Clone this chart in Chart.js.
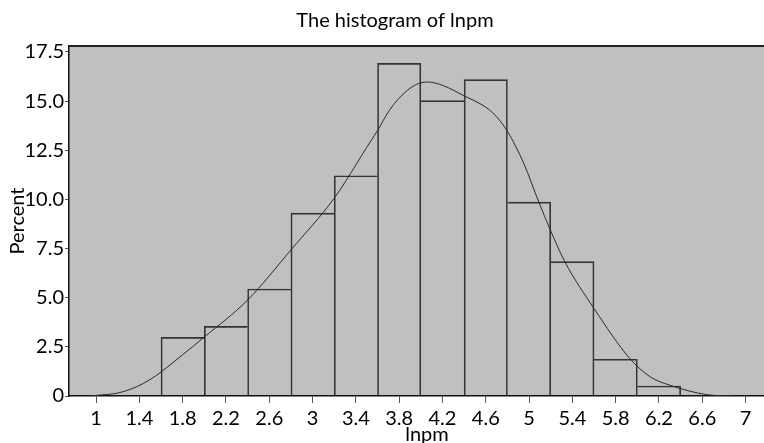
<!DOCTYPE html>
<html>
<head>
<meta charset="utf-8">
<script src="https://cdn.jsdelivr.net/npm/chart.js@4.4.1/dist/chart.umd.min.js"></script>
<style>
  html, body { margin: 0; padding: 0; background: #fff; }
  #wrap { width: 764px; height: 443px; }
</style>
</head>
<body>
<div id="wrap"><canvas id="chart"></canvas></div>
<script>
// histogram bins (centres, width 0.4) and percent heights
const binCenters = [1.8, 2.2, 2.6, 3.0, 3.4, 3.8, 4.2, 4.6, 5.0, 5.4, 5.8, 6.2];
const percents = [2.98, 3.54, 5.44, 9.3, 11.2, 16.92, 15.02, 16.09, 9.86, 6.83, 1.87, 0.51];

// density curve
const curveX = [0.95, 1.0, 1.2, 1.37, 1.5, 1.6, 1.8, 2.0, 2.4, 2.8, 3.2, 3.4, 3.5, 3.6, 3.7, 3.8, 3.9, 3.96, 4.06, 4.21, 4.39, 4.61, 4.7, 4.8, 4.95, 5.09, 5.19, 5.33, 5.6, 5.93, 6.12, 6.3, 6.64, 6.87];
const curveY = [0, 0.03, 0.15, 0.46, 0.84, 1.22, 2.1, 3.0, 4.88, 7.43, 10.06, 11.75, 12.65, 13.5, 14.45, 15.15, 15.65, 15.85, 15.97, 15.78, 15.29, 14.65, 14.2, 13.46, 11.84, 9.86, 8.53, 6.83, 4.45, 1.91, 0.97, 0.55, 0.07, 0];

const xTicks = [1, 1.4, 1.8, 2.2, 2.6, 3, 3.4, 3.8, 4.2, 4.6, 5, 5.4, 5.8, 6.2, 6.6, 7];
const yTicks = [0, 2.5, 5, 7.5, 10, 12.5, 15, 17.5];

const FONT = "Lato, 'Open Sans', sans-serif";
const FSIZE = 20;

const plotBg = {
  id: "plotBg",
  beforeDraw(chart) {
    const { ctx, chartArea: a } = chart;
    ctx.save();
    ctx.fillStyle = "#c0c0c0";
    ctx.fillRect(a.left, a.top, a.right - a.left, a.bottom - a.top);
    ctx.restore();
  },
  afterDraw(chart) {
    const { ctx, chartArea: a } = chart;
    ctx.save();
    // top frame line
    ctx.strokeStyle = "#222";
    ctx.lineWidth = 2;
    ctx.beginPath();
    ctx.moveTo(a.left, a.top);
    ctx.lineTo(a.right, a.top);
    ctx.stroke();
    // titles
    ctx.fillStyle = "#000";
    ctx.font = FSIZE + "px " + FONT;
    ctx.textAlign = "center";
    ctx.textBaseline = "alphabetic";
    ctx.fillText("The histogram of lnpm", 395, 26.5);
    ctx.fillText("lnpm", 427, 441);
    ctx.restore();
  }
};

// the taller of two neighbouring bars draws the shared edge
function barBorder(c) {
  const i = c.dataIndex;
  const last = percents.length - 1;
  return {
    top: 1,
    bottom: 0,
    left: i === 0 || percents[i] >= percents[i - 1] ? 1 : 0,
    right: i === last || percents[i] > percents[i + 1] ? 1 : 0
  };
}

const ctx = document.getElementById("chart").getContext("2d");
new Chart(ctx, {
  type: "bar",
  data: {
    datasets: [
      {
        type: "line",
        data: curveX.map((x, i) => ({ x: x, y: curveY[i] })),
        borderColor: "#2a2a2a",
        borderWidth: 1,
        pointRadius: 0,
        fill: false,
        cubicInterpolationMode: "monotone",
        order: 0
      },
      {
        data: binCenters.map((x, i) => ({ x: x, y: percents[i] })),
        backgroundColor: "rgba(0,0,0,0)",
        borderColor: "#333",
        borderWidth: barBorder,
        borderSkipped: false,
        barPercentage: 1,
        categoryPercentage: 1,
        order: 1
      }
    ]
  },
  options: {
    responsive: true,
    maintainAspectRatio: false,
    animation: false,
    layout: { padding: { top: 46, left: 0, right: 0, bottom: 0 } },
    plugins: {
      legend: { display: false },
      tooltip: { enabled: false }
    },
    scales: {
      x: {
        type: "linear",
        min: 0.75,
        max: 7.17,
        offset: false,
        afterBuildTicks: (s) => { s.ticks = xTicks.map(v => ({ value: v })); },
        afterFit: (s) => { s.height = 47; },
        grid: { display: true, drawOnChartArea: false, drawTicks: true, tickLength: 7, color: "#555", offset: false },
        border: { display: true, color: "#111", width: 1.5 },
        ticks: {
          color: "#000",
          font: { family: FONT, size: FSIZE },
          padding: 4,
          maxRotation: 0,
          autoSkip: false,
          callback: (v) => String(v)
        }
      },
      y: {
        min: 0,
        max: 17.8,
        afterBuildTicks: (s) => { s.ticks = yTicks.map(v => ({ value: v })); },
        afterFit: (s) => { s.width = 69; },
        grid: { display: true, drawOnChartArea: false, drawTicks: true, tickLength: 4, color: "#555" },
        border: { display: true, color: "#111", width: 1.5 },
        title: {
          display: true,
          text: "Percent",
          color: "#000",
          font: { family: FONT, size: FSIZE },
          padding: { top: 6, bottom: 0 }
        },
        ticks: {
          color: "#000",
          font: { family: FONT, size: FSIZE },
          padding: 1,
          callback: (v) => (v === 0 ? "0" : v.toFixed(1))
        }
      }
    }
  },
  plugins: [plotBg]
});
</script>
</body>
</html>
